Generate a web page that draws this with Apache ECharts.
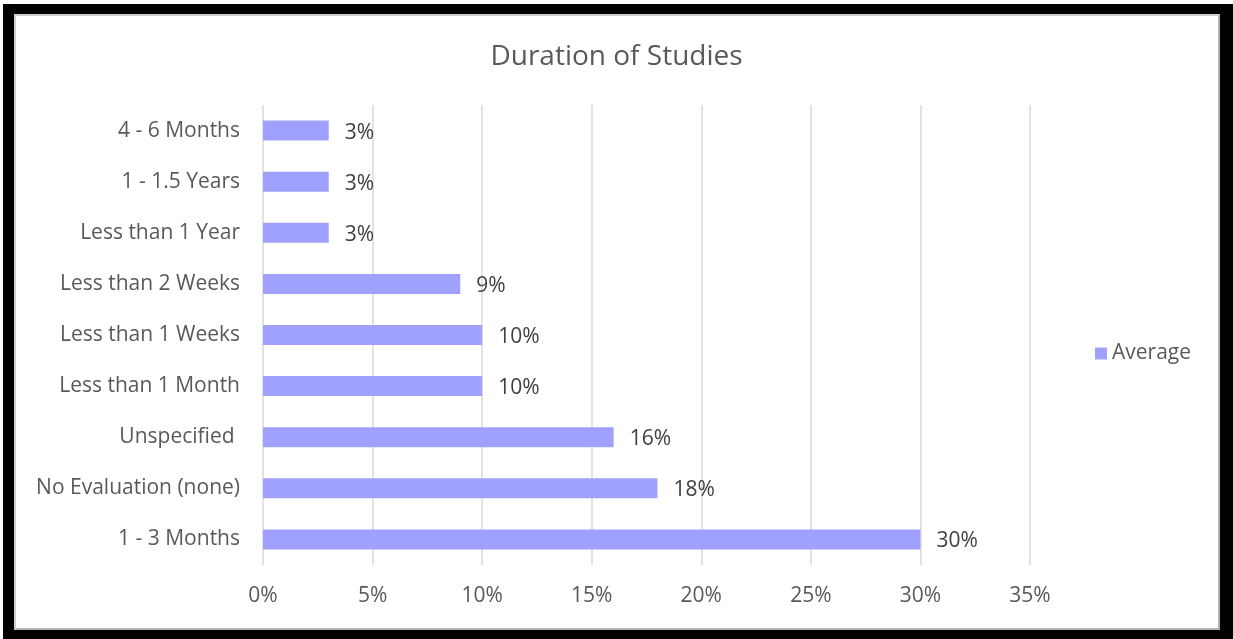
<!DOCTYPE html>
<html>
<head>
<meta charset="utf-8">
<script src="https://cdn.jsdelivr.net/npm/echarts@6/dist/echarts.min.js"></script>
<style>
  html, body { margin: 0; padding: 0; background: #fff; width: 1233px; height: 639px; overflow: hidden; }
  #frame { position: absolute; left: 3px; top: 4px; width: 1230px; height: 635px; background: #000; }
  #panel { position: absolute; left: 11px; top: 10px; width: 1202px; height: 612px; background: #fff;
           border: 2px solid #b0b0b0; border-top-color: #d0d0d0; border-left-color: #d0d0d0; }
  #chart { position: absolute; left: 0; top: 0; width: 1233px; height: 639px; }
</style>
</head>
<body>
<div id="frame"><div id="panel"></div></div>
<div id="chart"></div>
<script>
// Study duration categories, listed bottom to top
const categories = ['1 - 3 Months', 'No Evaluation (none)', 'Unspecified ', 'Less than 1 Month',
  'Less than 1 Weeks', 'Less than 2 Weeks', 'Less than 1 Year', '1 - 1.5 Years', '4 - 6 Months'];
// Average share of studies, in percent
const averageValues = [30, 18, 16, 10, 10, 9, 3, 3, 3];
const seriesName = 'Average';

const textColor = '#595959';
const fontFamily = '"Open Sans", sans-serif';

const chart = echarts.init(document.getElementById('chart'), null, { renderer: 'canvas' });
chart.setOption({
  backgroundColor: 'transparent',
  animation: false,
  textStyle: { fontFamily: fontFamily },
  title: {
    text: 'Duration of Studies',
    left: 'center',
    top: 38,
    textStyle: { color: textColor, fontSize: 28, fontWeight: 'normal', fontFamily: fontFamily }
  },
  legend: {
    orient: 'vertical',
    left: 1090,
    top: 338,
    itemWidth: 12,
    itemHeight: 12,
    itemGap: 6,
    icon: 'rect',
    textStyle: { color: textColor, fontSize: 21, fontFamily: fontFamily },
    data: [seriesName]
  },
  grid: { left: 263, right: 203, top: 105, bottom: 74, containLabel: false },
  xAxis: {
    type: 'value',
    min: 0,
    max: 35,
    interval: 5,
    axisLine: { show: false },
    axisTick: { show: false },
    splitLine: { show: true, lineStyle: { color: '#d9d9d9', width: 1.5 } },
    axisLabel: { color: textColor, fontSize: 21, margin: 21, formatter: '{value}%', fontFamily: fontFamily }
  },
  yAxis: {
    type: 'category',
    data: categories,
    axisLine: { show: false },
    axisTick: { show: false },
    axisLabel: { color: textColor, fontSize: 21, margin: 23, padding: [3, 0, 0, 0], fontFamily: fontFamily }
  },
  series: [{
    name: seriesName,
    type: 'bar',
    data: averageValues,
    barWidth: 20,
    itemStyle: { color: '#A0A1FF' },
    label: {
      show: true,
      position: 'right',
      distance: 16,
      offset: [0, 2],
      formatter: '{c}%',
      color: '#404040',
      fontSize: 21,
      fontFamily: fontFamily
    }
  }]
});
</script>
</body>
</html>
